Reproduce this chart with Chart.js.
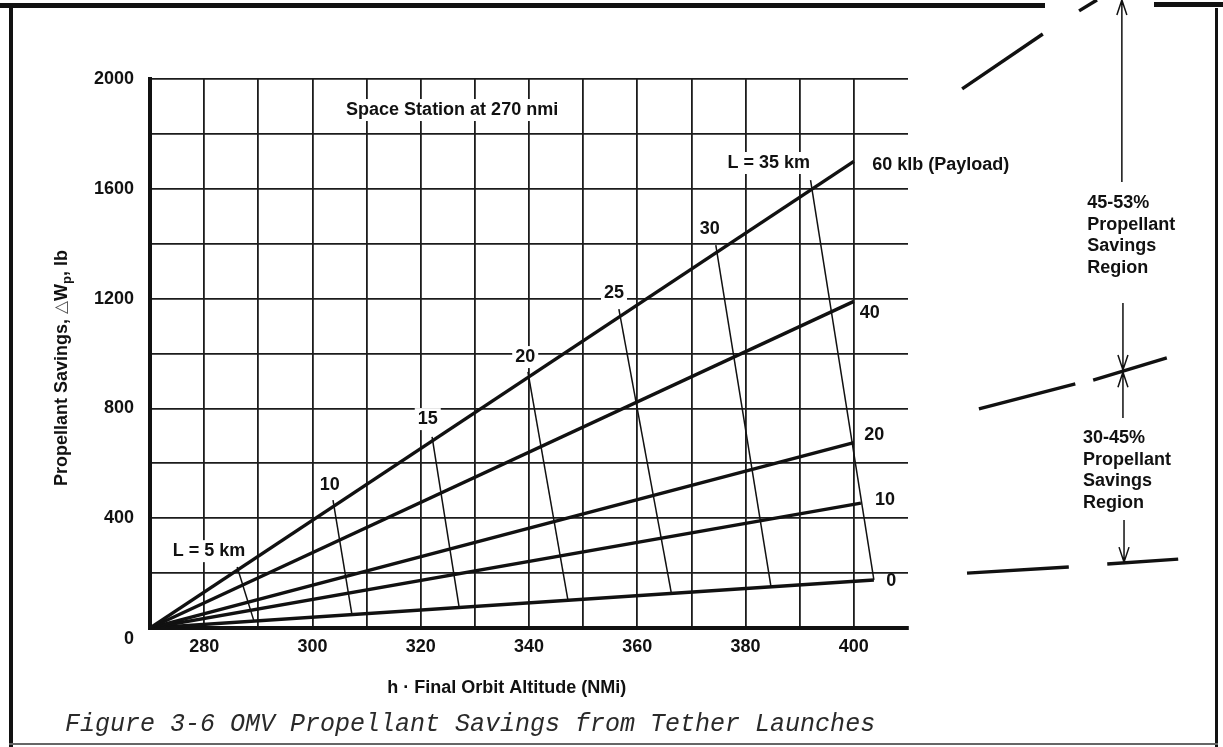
<!DOCTYPE html>
<html>
<head>
<meta charset="utf-8">
<title>OMV Propellant Savings</title>
<script src="https://cdn.jsdelivr.net/npm/chart.js@4.4.0/dist/chart.umd.min.js"></script>
<style>
  html, body { margin: 0; padding: 0; background: #fff; }
  #wrap { position: relative; width: 1223px; height: 747px; overflow: hidden; }
  .edge { position: absolute; background: #111; }
</style>
</head>
<body>
<div id="wrap">
  <canvas id="omvChart" width="1223" height="747"></canvas>
  <!-- figure frame -->
  <div class="edge" style="left:0;top:3px;width:1045px;height:5px"></div>
  <div class="edge" style="left:1154px;top:2px;width:69px;height:5px"></div>
  <div class="edge" style="left:9px;top:3px;width:4px;height:744px"></div>
  <div class="edge" style="left:1215px;top:8px;width:3px;height:739px"></div>
  <div class="edge" style="left:9px;top:743px;width:1209px;height:2px;background:#666"></div>
</div>
<script>
// Space station altitude, NMi
const stationAlt = 270

// Payload lines (klb), straight from the station to their end point
const payloadLabels = ['60 klb (Payload)', '40', '20', '10', '0']
const payloadEndAlt = [400, 400, 400, 401.3, 403.7]
const payloadEndSave = [1700, 1190, 675, 455, 175]
const payloadLabelAlt = [403.4, 401.1, 401.9, 403.9, 406]
const payloadLabelSave = [1687, 1147, 703, 466, 171]

// Constant tether length lines (km)
const tetherLabels = ['L = 5 km', '10', '15', '20', '25', '30', 'L = 35 km']
const tetherTopAlt = [286.1, 303.8, 322.1, 339.8, 356.6, 374.5, 392.0]
const tetherTopSave = [222, 466, 696, 933, 1162, 1395, 1632]
const tetherLowAlt = [289.2, 307.3, 327.1, 347.2, 366.3, 384.7, 403.7]
const tetherLowSave = [25, 49, 75, 101, 126, 150, 175]
const tetherLabelAlt = [280.9, 303.2, 321.3, 339.3, 355.7, 373.4, 384.3]
const tetherLabelSave = [280, 521, 761, 987, 1220, 1454, 1694]

// Savings region bounds, drawn right of the grid
const regionText = [
  ['45-53%', 'Propellant', 'Savings', 'Region'],
  ['30-45%', 'Propellant', 'Savings', 'Region']
]
const regionTextAlt = [443.1, 442.3]
const regionTextSave = [1548, 692]
const boundaryAlt = [[420.0, 434.9], [441.6, 444.9], [423.1, 440.9], [444.2, 457.8], [420.9, 439.7], [446.8, 459.9]]
const boundarySave = [[1964, 2164], [2248, 2288], [798, 889], [903, 984], [200, 222], [233, 251]]
const arrowAlt = [449.5, 449.7, 449.7, 449.9]
const arrowFrom = [1625, 1184, 765, 393]
const arrowTo = [2288, 940, 932, 240]

const ink = '#111'
const gridInk = '#1c1c1c'
const sans = '"Liberation Sans", Arial, "DejaVu Sans", sans-serif'
const labelFont = 'bold 18px ' + sans

const datasets = []
payloadEndAlt.forEach((alt, i) => datasets.push({
  data: [{ x: stationAlt, y: 0 }, { x: alt, y: payloadEndSave[i] }],
  borderColor: ink, borderWidth: 3.4
}))
tetherTopAlt.forEach((alt, i) => datasets.push({
  data: [{ x: alt, y: tetherTopSave[i] }, { x: tetherLowAlt[i], y: tetherLowSave[i] }],
  borderColor: ink, borderWidth: 1.5
}))
boundaryAlt.forEach((alts, i) => datasets.push({
  data: alts.map((a, j) => ({ x: a, y: boundarySave[i][j] })),
  borderColor: ink, borderWidth: 3.4, clip: false
}))

// labels sitting on the grid, centred on their point
function gridLabels(chart) {
  const { x, y } = chart.scales
  const list = [{ text: 'Space Station at 270 nmi', px: x.getPixelForValue(325.8), py: y.getPixelForValue(1887) }]
  tetherLabels.forEach((t, i) => list.push({
    text: t, px: x.getPixelForValue(tetherLabelAlt[i]), py: y.getPixelForValue(tetherLabelSave[i])
  }))
  return list
}

const textLayer = {
  id: 'textLayer',
  // clear the grid behind the labels
  beforeDatasetsDraw(chart) {
    const { ctx } = chart
    ctx.save()
    ctx.font = labelFont
    ctx.fillStyle = '#fff'
    gridLabels(chart).forEach(l => {
      const w = ctx.measureText(l.text).width + 6
      ctx.fillRect(l.px - w / 2, l.py - 11, w, 22)
    })
    ctx.restore()
  },
  afterDatasetsDraw(chart) {
    const { ctx, scales: { x, y }, chartArea } = chart
    const px = v => x.getPixelForValue(v)
    const py = v => y.getPixelForValue(v)
    ctx.save()
    ctx.fillStyle = ink
    ctx.strokeStyle = ink
    ctx.font = labelFont
    ctx.textBaseline = 'middle'

    ctx.textAlign = 'center'
    gridLabels(chart).forEach(l => ctx.fillText(l.text, l.px, l.py))

    ctx.textAlign = 'left'
    payloadLabels.forEach((t, i) => ctx.fillText(t, px(payloadLabelAlt[i]), py(payloadLabelSave[i])))
    regionText.forEach((lines, k) => {
      lines.forEach((t, j) => ctx.fillText(t, px(regionTextAlt[k]), py(regionTextSave[k]) + j * 21.7))
    })

    // dimension arrows with open heads
    ctx.lineWidth = 1.5
    arrowAlt.forEach((alt, i) => {
      const ax = px(alt), y0 = py(arrowFrom[i]), y1 = py(arrowTo[i])
      const dir = y1 < y0 ? 1 : -1
      ctx.beginPath()
      ctx.moveTo(ax, y0)
      ctx.lineTo(ax, y1)
      ctx.moveTo(ax - 5, y1 + dir * 15)
      ctx.lineTo(ax, y1)
      ctx.lineTo(ax + 5, y1 + dir * 15)
      ctx.stroke()
    })

    // axis titles
    ctx.textAlign = 'center'
    ctx.fillText('h \u00b7 Final Orbit Altitude (NMi)', px(335.9), chartArea.bottom + 60)

    ctx.save()
    ctx.translate(62, 368)
    ctx.rotate(-Math.PI / 2)
    const partA = 'Propellant Savings, '
    const tri = '\u25b3'
    const partB = 'W'
    const sub = 'p'
    const partC = ', lb'
    const wA = ctx.measureText(partA).width
    ctx.font = '17px "DejaVu Sans", sans-serif'
    const wT = ctx.measureText(tri).width
    ctx.font = labelFont
    const wB = ctx.measureText(partB).width
    const wC = ctx.measureText(partC).width
    ctx.font = 'bold 13px ' + sans
    const wS = ctx.measureText(sub).width
    let cx = -(wA + wT + wB + wS + wC) / 2
    ctx.textAlign = 'left'
    ctx.font = labelFont
    ctx.fillText(partA, cx, 0); cx += wA
    ctx.font = '17px "DejaVu Sans", sans-serif'
    ctx.fillStyle = '#555'
    ctx.fillText(tri, cx, 0); cx += wT
    ctx.fillStyle = ink
    ctx.font = labelFont
    ctx.fillText(partB, cx, 0); cx += wB
    ctx.font = 'bold 13px ' + sans
    ctx.fillText(sub, cx, 5); cx += wS
    ctx.font = labelFont
    ctx.fillText(partC, cx, 0)
    ctx.restore()

    // figure caption
    ctx.font = 'italic 25px "Liberation Mono", "Courier New", monospace'
    ctx.fillStyle = '#2a2a2a'
    ctx.textAlign = 'left'
    ctx.fillText('Figure 3-6 OMV Propellant Savings from Tether Launches', 65, 724)
    ctx.restore()
  }
}

const omvChart = new Chart(document.getElementById('omvChart'), {
  type: 'line',
  data: { datasets },
  options: {
    responsive: false,
    animation: false,
    devicePixelRatio: 1,
    layout: { padding: { top: 79, right: 315, bottom: 79, left: 0 } },
    plugins: { legend: { display: false }, tooltip: { enabled: false } },
    elements: { point: { radius: 0 }, line: { tension: 0 } },
    scales: {
      x: {
        type: 'linear',
        min: 270,
        max: 410,
        afterFit: s => { s.height = 40 },
        ticks: {
          stepSize: 10,
          autoSkip: false,
          maxRotation: 0,
          padding: 8,
          color: ink,
          font: { family: sans, size: 18, weight: 'bold' },
          callback: v => (v % 20 === 0 ? v : '')
        },
        grid: {
          color: c => (c.tick && c.tick.value === 410 ? 'rgba(0,0,0,0)' : gridInk),
          lineWidth: 1.8,
          drawTicks: false
        },
        border: { color: ink, width: 4 }
      },
      y: {
        min: 0,
        max: 2000,
        afterFit: s => { s.width = 150 },
        ticks: {
          stepSize: 200,
          padding: 16,
          color: ink,
          font: { family: sans, size: 18, weight: 'bold' },
          callback: v => (v === 0 ? ['', '0'] : v % 400 === 0 ? v : '')
        },
        grid: { color: gridInk, lineWidth: 1.8, drawTicks: false },
        border: { color: ink, width: 4 }
      }
    }
  },
  plugins: [textLayer]
})
</script>
</body>
</html>
